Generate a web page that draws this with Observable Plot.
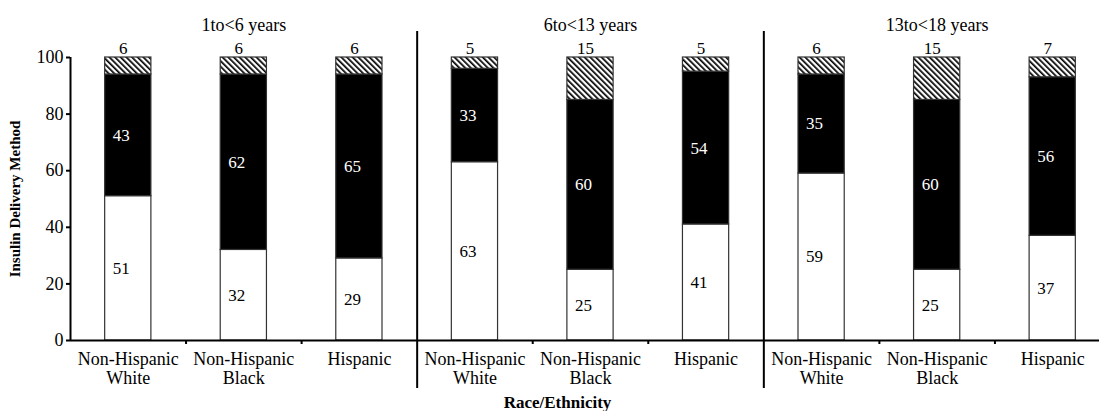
<!DOCTYPE html>
<html><head><meta charset="utf-8">
<script src="https://cdn.jsdelivr.net/npm/d3@7"></script>
<script src="https://cdn.jsdelivr.net/npm/@observablehq/plot@0.6"></script>
<style>body{margin:0;background:#fff}</style>
</head><body><div id="chart"></div>
<script>
const ageGroups = ["1to<6 years", "6to<13 years", "13to<18 years"];
const races = ["Non-Hispanic\nWhite", "Non-Hispanic\nBlack", "Hispanic"];
const whiteSeg = [51, 32, 29, 63, 25, 41, 59, 25, 37];
const blackSeg = [43, 62, 65, 33, 60, 54, 35, 60, 56];
const hatchSeg = [6, 6, 6, 5, 15, 5, 6, 15, 7];
const yTicks = [0, 20, 40, 60, 80, 100];

const segs = [];
whiteSeg.forEach((w, i) => {
  const b = blackSeg[i], h = hatchSeg[i];
  segs.push({pos: i, kind: "white", y1: 0, y2: w, v: w});
  segs.push({pos: i, kind: "black", y1: w, y2: w + b, v: b});
  segs.push({pos: i, kind: "hatch", y1: w + b, y2: Math.min(100, w + b + h), v: h});
});
const of = k => segs.filter(d => d.kind === k);
const bx1 = d => d.pos + 0.3, bx2 = d => d.pos + 0.7, bc = d => d.pos + 0.5;
const mid = d => (d.y1 + d.y2) / 2;

const svg = Plot.plot({
  width: 1099, height: 411,
  marginLeft: 70, marginRight: -11, marginTop: 57, marginBottom: 71,
  style: {fontFamily: "'Liberation Serif', 'Times New Roman', serif", fontSize: "18px", background: "white", color: "black"},
  x: {domain: [0, 9], label: null},
  y: {domain: [0, 100], label: null},
  marks: [
    Plot.rect(of("white"), {x1: bx1, x2: bx2, y1: "y1", y2: "y2", fill: "white", stroke: "#333", strokeWidth: 1.2}),
    Plot.rect(of("black"), {x1: bx1, x2: bx2, y1: "y1", y2: "y2", fill: "black", stroke: "#333", strokeWidth: 1.2}),
    Plot.rect(of("hatch"), {x1: bx1, x2: bx2, y1: "y1", y2: "y2", fill: "url(#hatch)", stroke: "#333", strokeWidth: 1.2}),
    Plot.text(of("white"), {x: bc, y: mid, text: "v", fill: "black", dx: -7, fontSize: 17}),
    Plot.text(of("black"), {x: bc, y: mid, text: "v", fill: "white", dx: -7, fontSize: 17}),
    Plot.text(of("hatch"), {x: bc, y: "y2", text: "v", fill: "black", dx: -5, dy: -9, fontSize: 17}),
    Plot.ruleY([0], {stroke: "black", strokeWidth: 2}),
    Plot.ruleX([0], {y1: 0, y2: 100, stroke: "black", strokeWidth: 2}),
    Plot.ruleX([3, 6], {stroke: "black", strokeWidth: 2, insetTop: -26, insetBottom: -48}),
    Plot.axisY(yTicks, {tickSize: 4, tickPadding: 3, strokeWidth: 2, fontSize: 18}),
    Plot.axisX([1, 2, 4, 5, 7, 8], {tickSize: 4, strokeWidth: 2, tickFormat: () => ""}),
    Plot.axisX(d3.range(9).map(i => i + 0.5), {tickSize: 0, tickPadding: 10, fontSize: 18, lineHeight: 1.1,
      tickFormat: t => races[Math.floor(t) % 3]}),
    Plot.text(ageGroups, {x: (d, i) => i * 3 + 1.5, frameAnchor: "top", lineAnchor: "middle", dy: -32, fontSize: 18}),
    Plot.text(["Insulin Delivery Method"], {frameAnchor: "left", rotate: -90, textAnchor: "middle", dx: -55, fontWeight: "bold", fontSize: 15}),
    Plot.text(["Race/Ethnicity"], {frameAnchor: "bottom", textAnchor: "middle", dx: -33, dy: 67, fontWeight: "bold", fontSize: 17})
  ]
});

d3.select(svg).insert("defs", ":first-child").html(
  '<pattern id="hatch" patternUnits="userSpaceOnUse" width="4" height="4" patternTransform="rotate(-45)">' +
  '<rect width="4" height="4" fill="white"/><rect width="1.7" height="4" fill="black"/></pattern>');
document.getElementById("chart").appendChild(svg);
</script>
</body></html>
